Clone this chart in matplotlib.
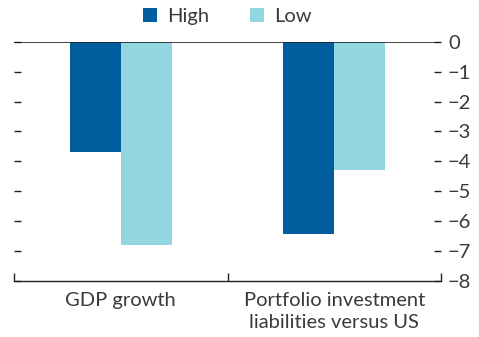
import matplotlib
matplotlib.use("Agg")
import matplotlib.pyplot as plt
import numpy as np

categories = ["GDP growth", "Portfolio investment\nliabilities versus US"]
series_names = ["High", "Low"]
high_values = [-3.7, -6.45]
low_values = [-6.8, -4.3]
y_ticks = [0, -1, -2, -3, -4, -5, -6, -7, -8]

DARK = "#005E9E"
LIGHT = "#92D6DF"
TEXT = "#3a3a3a"
AXIS = "#222222"

plt.rcParams["font.family"] = ["Lato", "DejaVu Sans"]
FS = 14.5

fig = plt.figure(figsize=(4.79, 3.37), dpi=100)
ax = fig.add_axes([14 / 479, (337 - 280.5) / 337, 427 / 479, 238.5 / 337])

x = np.arange(len(categories))
w = 0.24
ax.bar(x - w / 2, high_values, w, color=DARK, label=series_names[0])
ax.bar(x + w / 2, low_values, w, color=LIGHT, label=series_names[1])

ax.set_xlim(-0.5, len(categories) - 0.5)
ax.set_ylim(-8, 0)

for s in ["left", "right", "top"]:
    ax.spines[s].set_visible(False)
ax.spines["bottom"].set_color(AXIS)
ax.spines["bottom"].set_linewidth(1.0)
ax.axhline(0, color=AXIS, lw=1.2, zorder=3)

# Category labels centered under groups, boundary ticks between groups
ax.set_xticks(x)
ax.set_xticklabels(categories, fontsize=FS, color=TEXT, linespacing=1.4)
ax.tick_params(axis="x", which="major", length=0, pad=8)
ax.set_xticks(np.arange(-0.5, len(categories)), minor=True)
ax.tick_params(axis="x", which="minor", direction="in", length=6, color=AXIS, width=1.0)

# Value scale on the right, plain short marks on the left
ax.set_yticks(y_ticks)
ax.set_yticklabels([str(v).replace("-", "\u2212") for v in y_ticks])
ax.yaxis.set_ticks_position("both")
ax.tick_params(axis="y", which="major", direction="in", length=5, width=1.0, color=AXIS,
               left=True, right=True, labelleft=False, labelright=True,
               labelsize=FS, labelcolor=TEXT, pad=5)

leg = ax.legend(loc="lower center", bbox_to_anchor=(0.5, 1.0), ncol=2, frameon=False,
                prop={"size": FS}, handlelength=0.72, handleheight=0.72,
                handletextpad=0.5, columnspacing=2.0, borderaxespad=0.45)
for t in leg.get_texts():
    t.set_color(TEXT)

fig.savefig("out.png", dpi=100)
